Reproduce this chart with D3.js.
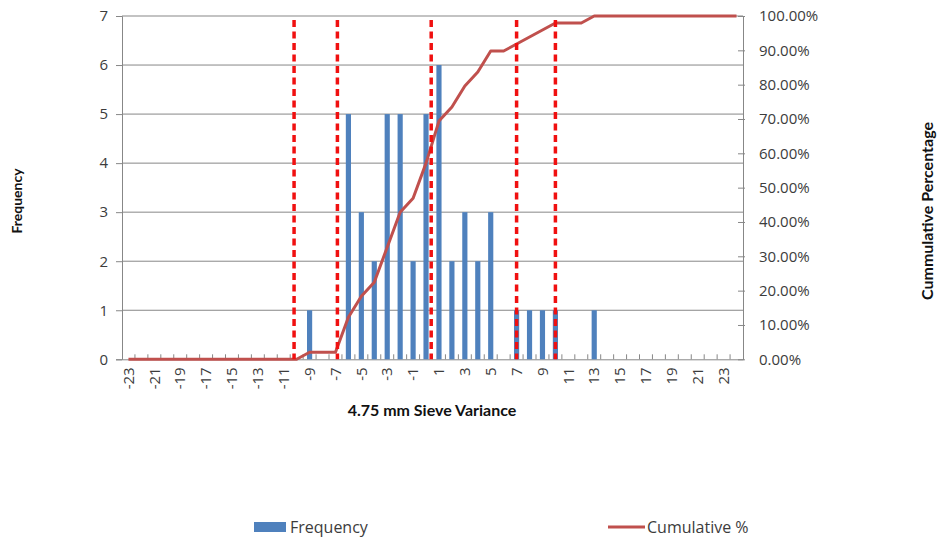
<!DOCTYPE html>
<html>
<head>
<meta charset="utf-8">
<script src="https://cdn.jsdelivr.net/npm/d3@7"></script>
<style>
  html, body { margin: 0; padding: 0; background: #fff; }
  svg { display: block; }
  text { font-family: "Open Sans", Lato, sans-serif; }
</style>
</head>
<body>
<svg id="chart" width="939" height="539"></svg>
<script>
// Histogram bins (upper bin edges) of the 4.75 mm sieve variance, plus Excel's "More" bin
const bins = [-23,-22,-21,-20,-19,-18,-17,-16,-15,-14,-13,-12,-11,-10,-9,-8,-7,-6,-5,-4,-3,-2,-1,0,
              1,2,3,4,5,6,7,8,9,10,11,12,13,14,15,16,17,18,19,20,21,22,23,"More"];
// Count of samples in each bin
const frequency = [0,0,0,0,0,0,0,0,0,0,0,0,0,0,1,0,0,5,3,2,5,5,2,5,
                   6,2,3,2,3,0,1,1,1,1,0,0,1,0,0,0,0,0,0,0,0,0,0,0];
// Cumulative percentage at each bin
const cumulative = [0,0,0,0,0,0,0,0,0,0,0,0,0,0,2.04,2.04,2.04,12.24,18.37,22.45,32.65,42.86,46.94,57.14,
                    69.39,73.47,79.59,83.67,89.80,89.80,91.84,93.88,95.92,97.96,97.96,97.96,100,100,100,100,100,100,100,100,100,100,100,100];
// Labelled bins on the category axis
const xTickLabels = [-23,-21,-19,-17,-15,-13,-11,-9,-7,-5,-3,-1,1,3,5,7,9,11,13,15,17,19,21,23];
const freqTicks = [0,1,2,3,4,5,6,7];
const pctTicks = [0,10,20,30,40,50,60,70,80,90,100];
// Reference limits drawn as dashed verticals (variance units)
const limits = [-10.2, -6.85, 0.4, 7.0, 10.0];

const svg = d3.select("#chart");
const plotL = 122, plotR = 743, plotT = 16, plotB = 359.3;

const x = d3.scaleBand().domain(bins.map(String)).range([plotL, plotR]).paddingInner(0).paddingOuter(0);
const bw = x.bandwidth();
const xv = d3.scaleLinear().domain([-23.5, 24.5]).range([plotL, plotR]);
const y = d3.scaleLinear().domain([0, 7]).range([plotB, plotT]);
const y2 = d3.scaleLinear().domain([0, 100]).range([plotB, plotT]);

const gridColor = "#878787";
const textColor = "#3c3c3c";
const tickFont = "'Open Sans', sans-serif";

// horizontal gridlines
svg.append("g").selectAll("line").data(freqTicks.filter(d => d > 0)).join("line")
  .attr("x1", plotL).attr("x2", plotR)
  .attr("y1", d => y(d)).attr("y2", d => y(d))
  .attr("stroke", gridColor).attr("stroke-width", 1);

// left axis
const gl = svg.append("g").attr("transform", `translate(${plotL},0)`)
  .call(d3.axisLeft(y).tickValues(freqTicks).tickSize(6).tickPadding(8).tickFormat(d3.format("d")));
gl.select(".domain").attr("stroke", gridColor);
gl.selectAll(".tick line").attr("stroke", gridColor);
gl.selectAll(".tick text").attr("fill", textColor).style("font-size", "15px").style("font-family", tickFont);

// right axis
const gr = svg.append("g").attr("transform", `translate(${plotR},0)`)
  .call(d3.axisRight(y2).tickValues(pctTicks).tickSize(0).tickPadding(16).tickFormat(d => d.toFixed(2) + "%"));
gr.select(".domain").attr("stroke", gridColor);
gr.selectAll(".tick").append("line").attr("x1", -5).attr("x2", 2).attr("stroke", gridColor);
gr.selectAll(".tick text").attr("fill", textColor).style("font-size", "15px").style("font-family", tickFont);

// bottom axis
const gb = svg.append("g").attr("transform", `translate(0,${plotB})`)
  .call(d3.axisBottom(x).tickValues(xTickLabels.map(String)).tickSize(0).tickPadding(0));
gb.select(".domain").attr("stroke", gridColor);
gb.selectAll(".tick text")
  .attr("transform", "rotate(-90)")
  .attr("x", -8).attr("y", 0).attr("dy", "0.35em")
  .attr("text-anchor", "end")
  .attr("fill", textColor).style("font-size", "15px").style("font-family", tickFont);
// inside tick marks at bin boundaries
svg.append("g").selectAll("line").data(bins.slice(1)).join("line")
  .attr("x1", d => x(String(d))).attr("x2", d => x(String(d)))
  .attr("y1", plotB).attr("y2", plotB - 5)
  .attr("stroke", gridColor);

// frequency bars
const barW = bw / 2.5;
svg.append("g").selectAll("rect").data(bins.map((b, i) => ({ b: String(b), v: frequency[i] })).filter(d => d.v > 0)).join("rect")
  .attr("x", d => x(d.b) + (bw - barW) / 2)
  .attr("width", barW)
  .attr("y", d => y(d.v))
  .attr("height", d => y(0) - y(d.v))
  .attr("fill", "#4F81BD");

// cumulative percentage line
const line = d3.line().x((d, i) => x(String(bins[i])) + bw / 2).y(d => y2(d));
svg.append("path").datum(cumulative)
  .attr("d", line).attr("fill", "none")
  .attr("stroke", "#C0504D").attr("stroke-width", 3).attr("stroke-linejoin", "round");

// dashed reference limits
svg.append("g").selectAll("line").data(limits).join("line")
  .attr("x1", d => xv(d)).attr("x2", d => xv(d))
  .attr("y1", y(6.92)).attr("y2", plotB)
  .attr("stroke", "#F01010").attr("stroke-width", 3.5)
  .attr("stroke-dasharray", "7,4.5");

// axis titles
svg.append("text").attr("x", 432).attr("y", 416).attr("text-anchor", "middle")
  .style("font-family", "Lato, sans-serif").style("font-size", "16px").style("font-weight", "bold").attr("fill", "#111")
  .text("4.75 mm Sieve Variance");
svg.append("text").attr("transform", "translate(22,201) rotate(-90)").attr("text-anchor", "middle")
  .style("font-family", "Lato, sans-serif").style("font-size", "14px").style("font-weight", "bold").attr("fill", "#111")
  .text("Frequency");
svg.append("text").attr("transform", "translate(933,211) rotate(-90)").attr("text-anchor", "middle")
  .style("font-family", "Lato, sans-serif").style("font-size", "16px").style("font-weight", "bold").attr("fill", "#111")
  .text("Cummulative Percentage");

// legend
const lg = svg.append("g");
lg.append("rect").attr("x", 254).attr("y", 522).attr("width", 32).attr("height", 10).attr("fill", "#4F81BD");
lg.append("text").attr("x", 290).attr("y", 533).style("font-size", "16px").attr("fill", textColor).text("Frequency");
lg.append("line").attr("x1", 608).attr("x2", 645).attr("y1", 527).attr("y2", 527)
  .attr("stroke", "#C0504D").attr("stroke-width", 3);
lg.append("text").attr("x", 647).attr("y", 533).style("font-size", "16px").attr("fill", textColor).text("Cumulative %");
</script>
</body>
</html>
